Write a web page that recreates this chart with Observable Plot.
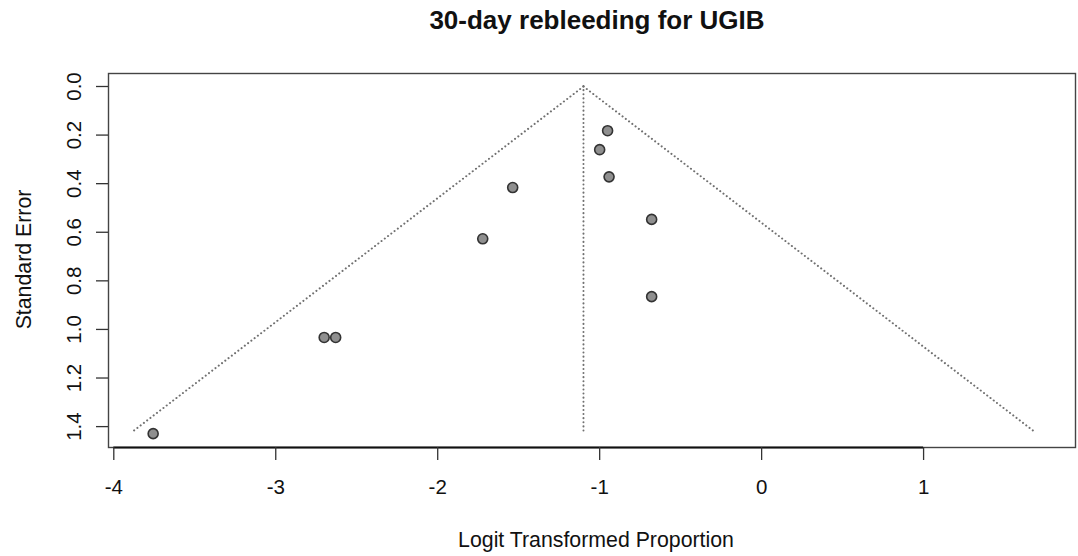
<!DOCTYPE html>
<html>
<head>
<meta charset="utf-8">
<script src="https://cdn.jsdelivr.net/npm/d3@7"></script>
<script src="https://cdn.jsdelivr.net/npm/@observablehq/plot@0.6"></script>
<style>
  html, body { margin: 0; padding: 0; background: #fff; }
  svg { display: block; }
</style>
</head>
<body>
<div id="chart"></div>
<script>
// Study estimates (logit transformed proportion) and standard errors
const logitProp = [-0.951, -1.00, -0.942, -1.537, -0.679, -0.679, -1.722, -2.701, -2.630, -3.757];
const stdErr    = [0.182, 0.260, 0.372, 0.416, 0.547, 0.865, 0.627, 1.033, 1.033, 1.429];
// Funnel: pooled estimate and maximum SE of the funnel
const funnelCenter = -1.1;
const funnelMaxSE = 1.42;
const zCrit = 1.96;
const xTicks = [-4, -3, -2, -1, 0, 1];
const yTicks = [0, 0.2, 0.4, 0.6, 0.8, 1.0, 1.2, 1.4];
const xDomain = [-4.0327, 1.938];
const yDomain = [-0.0535, 1.486];
const titleText = "30-day rebleeding for UGIB";
const xLabel = "Logit Transformed Proportion";
const yLabel = "Standard Error";

const studies = logitProp.map((x, i) => ({x, se: stdErr[i]}));
const leftEdge = [{x: funnelCenter, se: 0}, {x: funnelCenter - zCrit * funnelMaxSE, se: funnelMaxSE}];
const rightEdge = [{x: funnelCenter, se: 0}, {x: funnelCenter + zCrit * funnelMaxSE, se: funnelMaxSE}];

const font = "'Liberation Sans', Arial, Helvetica, sans-serif";
const dotted = {stroke: "#707070", strokeWidth: 2, strokeDasharray: "0.1,4", strokeLinecap: "round"};

const chart = Plot.plot({
  width: 1078,
  height: 556,
  marginLeft: 108,
  marginRight: 3,
  marginTop: 73,
  marginBottom: 109,
  style: {fontFamily: font, background: "#fff", color: "#111"},
  x: {domain: xDomain, label: null},
  y: {domain: yDomain, reverse: true, label: null},
  marks: [
    Plot.frame({stroke: "#444", strokeWidth: 1.4}),
    Plot.line(leftEdge, {x: "x", y: "se", ...dotted}),
    Plot.line(rightEdge, {x: "x", y: "se", ...dotted}),
    Plot.ruleX([funnelCenter], {y1: 0, y2: funnelMaxSE, ...dotted}),
    Plot.dot(studies, {x: "x", y: "se", r: 5, fill: "#8f8f8f", stroke: "#333", strokeWidth: 1.6}),
    // x axis (R style: line only spans the ticks)
    Plot.ruleY([yDomain[1]], {x1: xTicks[0], x2: xTicks[xTicks.length - 1], stroke: "#111", strokeWidth: 1.9}),
    Plot.axisX(xTicks, {tickSize: 13, tickPadding: 19, fontSize: 20.5, label: null, stroke: "#333", strokeWidth: 1.3, tickFormat: d => String(d)}),
    Plot.axisY(yTicks, {tickSize: 12, tickPadding: 16, tickRotate: -90, fontSize: 20.5, label: null, stroke: "#333", strokeWidth: 1.3, tickFormat: d => d.toFixed(1)}),
    // titles
    Plot.text([titleText], {frameAnchor: "top", dy: -44.5, dx: 5, lineAnchor: "bottom", fontSize: 26, fontWeight: "bold", fill: "#111"}),
    Plot.text([xLabel], {frameAnchor: "bottom", dy: 99.5, dx: 4, lineAnchor: "bottom", fontSize: 21.3, fill: "#111"}),
    Plot.text([yLabel], {frameAnchor: "left", dx: -78, dy: -1, rotate: -90, textAnchor: "middle", lineAnchor: "bottom", fontSize: 21.3, fill: "#111"})
  ]
});
document.getElementById("chart").append(chart);
</script>
</body>
</html>
